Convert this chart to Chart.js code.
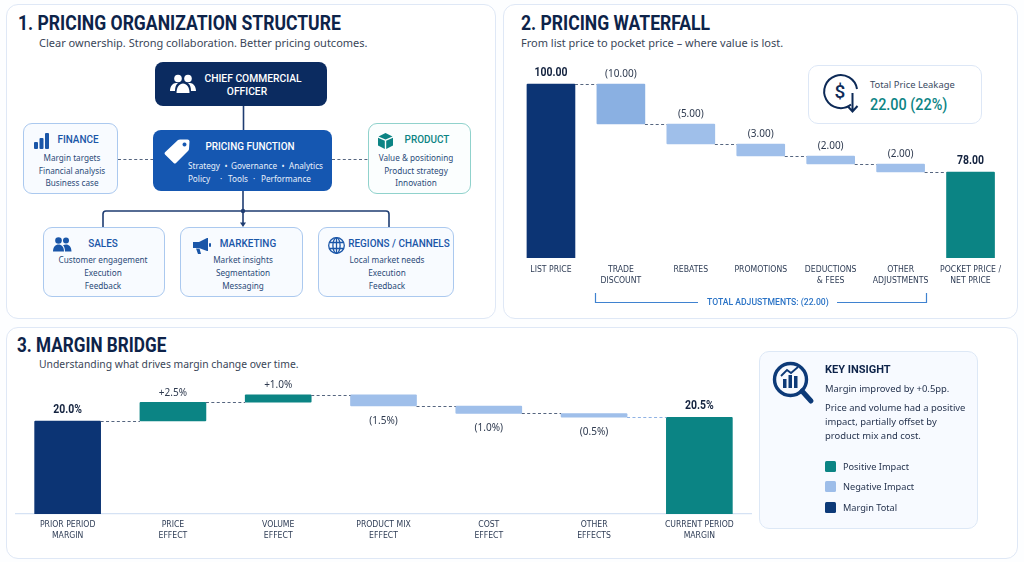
<!DOCTYPE html>
<html>
<head>
<meta charset="utf-8">
<title>Pricing overview</title>
<script src="https://cdn.jsdelivr.net/npm/chart.js@4"></script>
<style>
  html, body { margin: 0; padding: 0; background: #fdfeff; }
  body { width: 1024px; height: 562px; position: relative; overflow: hidden; font-family: "Noto Sans", sans-serif; color: #26344f; }
  .abs { position: absolute; white-space: nowrap; }
  .panel { position: absolute; box-sizing: border-box; background: #fff; border: 1.5px solid #dfe8f6; border-radius: 12px; }
  .title { position: absolute; white-space: nowrap; font-family: Roboto, sans-serif; font-weight: 700; font-size: 19.5px; line-height: 24px; color: #0d2349; transform: scaleX(.9); transform-origin: left center; }
  .sub { position: absolute; white-space: nowrap; font-size: 11px; line-height: 16px; color: #3a4658; }
  .box { position: absolute; box-sizing: border-box; border-radius: 9px; background: #f8fbff; border: 1.5px solid #abc9ef; }
  .line { position: absolute; white-space: nowrap; transform: translate(-50%, -50%) scaleX(.88); font-size: 9.3px; line-height: 12px; color: #2a4a78; }
  .head { position: absolute; white-space: nowrap; transform: translate(-50%, -50%) scaleX(.88); font-family: Roboto, sans-serif; font-weight: 500; font-size: 11.3px; line-height: 13px; color: #1a56a8; }
  .light { color: #e8f0fb; }
  canvas { position: absolute; }
  svg { position: absolute; overflow: visible; }
</style>
</head>
<body>

<div class="panel" style="left:6px;top:4px;width:490px;height:315px"></div>
<div class="panel" style="left:503px;top:4px;width:515px;height:315px"></div>
<div class="panel" style="left:6px;top:327px;width:1012px;height:232px"></div>

<div class="title" style="left:18px;top:12px">1. PRICING ORGANIZATION STRUCTURE</div>
<div class="sub" style="left:39px;top:35px">Clear ownership. Strong collaboration. Better pricing outcomes.</div>
<div class="title" style="left:521px;top:12px">2. PRICING WATERFALL</div>
<div class="sub" style="left:521px;top:35px">From list price to pocket price – where value is lost.</div>
<div class="title" style="left:17px;top:334px;transform:scaleX(.88)">3. MARGIN BRIDGE</div>
<div class="sub" style="left:39px;top:356px;font-size:10.35px">Understanding what drives margin change over time.</div>

<!-- org chart connectors -->
<svg style="left:0;top:0" width="1024" height="562">
  <g fill="none" stroke="#1f3d72" stroke-width="1.6">
    <path d="M243.5 106V130"/>
    <path d="M243 191V224"/>
    <path d="M103 227V214Q103 211 106 211H386Q389 211 389 214V227"/>
  </g>
  <circle cx="243" cy="211" r="2.2" fill="#1f3d72"/>
  <path d="M240 222.5h6l-3 4.5z" fill="#1f3d72"/>
  <g stroke="#55657f" stroke-width="1.2" stroke-dasharray="3 2.4">
    <path d="M118 159.5H153"/>
    <path d="M332 159.5H368"/>
  </g>
</svg>

<!-- chief commercial officer -->
<div class="box" style="left:155px;top:62px;width:172px;height:44px;background:#0b2b60;border:none;border-radius:8px"></div>
<svg style="left:170px;top:74px" width="26" height="20" viewBox="0 0 26 20" fill="#fff">
  <circle cx="8" cy="4.5" r="3.8"/><circle cx="18" cy="4.5" r="3.8"/>
  <path d="M0 17c0-5 3-8 6-8h2c-1.800 1.500-3 4-3 8z"/><path d="M26 17c0-5-3-8-6-8h-2c1.800 1.500 3 4 3 8z"/>
  <path d="M6.500 19c0-6 3-9.500 6.500-9.500s6.500 3.500 6.500 9.500z"/>
</svg>
<div class="head" style="left:253px;top:78px;color:#fff;transform:translate(-50%,-50%) scaleX(.91)">CHIEF COMMERCIAL</div>
<div class="head" style="left:247px;top:91px;color:#fff;transform:translate(-50%,-50%) scaleX(.91)">OFFICER</div>

<!-- pricing function -->
<div class="box" style="left:153px;top:130px;width:179px;height:61px;background:#1557b1;border:none;border-radius:8px"></div>
<svg style="left:164px;top:139px" width="26" height="25" viewBox="0 0 26 25">
  <path fill="#fff" fill-rule="evenodd" d="M16 0.500L23.500 0.500Q25.500 0.500 25.500 2.500L25 10Q25 11 24 12L12 24Q10.800 25 9.700 24L1 15.500Q0 14.300 1 13.300L14 1Q15 0.500 16 0.500ZM20.500 3.500a2 2 0 1 0 0.010 0z"/>
</svg>
<div class="head" style="left:250px;top:146px;color:#fff">PRICING FUNCTION</div>
<div class="line light" style="left:204px;top:165.500px">Strategy</div>
<div class="line light" style="left:226px;top:165.500px">•</div>
<div class="line light" style="left:254px;top:165.500px">Governance</div>
<div class="line light" style="left:283px;top:165.500px">•</div>
<div class="line light" style="left:306px;top:165.500px">Analytics</div>
<div class="line light" style="left:199px;top:178.500px">Policy</div>
<div class="line light" style="left:221px;top:178.500px">·</div>
<div class="line light" style="left:238px;top:178.500px">Tools</div>
<div class="line light" style="left:254px;top:178.500px">·</div>
<div class="line light" style="left:286px;top:178.500px">Performance</div>

<!-- finance -->
<div class="box" style="left:23px;top:123px;width:95px;height:71px"></div>
<svg style="left:34px;top:133px" width="15" height="16" viewBox="0 0 15 16" fill="#1a56a8">
  <rect x="0" y="9" width="4" height="7" rx="1"/><rect x="5.500" y="5" width="4" height="11" rx="1"/><rect x="11" y="0" width="4" height="16" rx="1"/>
</svg>
<div class="head" style="left:78px;top:139px">FINANCE</div>
<div class="line" style="left:72px;top:158px">Margin targets</div>
<div class="line" style="left:72px;top:171px">Financial analysis</div>
<div class="line" style="left:72px;top:183px">Business case</div>

<!-- product -->
<div class="box" style="left:368px;top:123px;width:103px;height:71px;border-color:#90d2cc;background:#fbfefe"></div>
<svg style="left:378px;top:133px" width="15" height="16" viewBox="0 0 15 16" fill="#0b8484">
  <path d="M7.500 0L14.500 3.500 7.500 6.500 0.500 3.500z"/><path d="M0 4.800L6.800 7.800V16L0 12.500z"/><path d="M15 4.800L8.200 7.800V16L15 12.500z"/>
</svg>
<div class="head" style="left:427px;top:139px;color:#0b8484">PRODUCT</div>
<div class="line" style="left:416px;top:158px">Value &amp; positioning</div>
<div class="line" style="left:416px;top:171px">Product strategy</div>
<div class="line" style="left:416px;top:183px">Innovation</div>

<!-- sales -->
<div class="box" style="left:43px;top:227px;width:122px;height:70px"></div>
<svg style="left:53px;top:237px" width="19" height="15" viewBox="0 0 19 15" fill="#1a56a8">
  <circle cx="5.500" cy="3.500" r="3.300"/><circle cx="13" cy="3.500" r="3"/>
  <path d="M0 14.500c0-4.500 2.500-7 5.500-7s5.500 2.500 5.500 7z"/><path d="M12 14.500c0-3-0.800-5-2-6.300 1-0.500 2-0.700 3-0.700 3 0 5.500 2.500 5.500 7z"/>
</svg>
<div class="head" style="left:103px;top:243px">SALES</div>
<div class="line" style="left:103px;top:260px">Customer engagement</div>
<div class="line" style="left:103px;top:273px">Execution</div>
<div class="line" style="left:103px;top:286px">Feedback</div>

<!-- marketing -->
<div class="box" style="left:180px;top:227px;width:123px;height:70px"></div>
<svg style="left:193px;top:238px" width="18" height="17" viewBox="0 0 18 17" fill="#1a56a8">
  <path d="M14 0L15 0V13L14 13L6 10L6 4z"/><rect x="0" y="4" width="6" height="6"/><path d="M3 10.500h3.500L8 16H5z"/><rect x="16" y="5" width="2" height="4" rx="1"/>
</svg>
<div class="head" style="left:248px;top:243px">MARKETING</div>
<div class="line" style="left:243px;top:260px">Market insights</div>
<div class="line" style="left:243px;top:273px">Segmentation</div>
<div class="line" style="left:243px;top:286px">Messaging</div>

<!-- regions -->
<div class="box" style="left:318px;top:227px;width:136px;height:70px"></div>
<svg style="left:328px;top:237px" width="17" height="17" viewBox="0 0 17 17" fill="none" stroke="#1a56a8" stroke-width="1.300">
  <circle cx="8.500" cy="8.500" r="7.800"/><ellipse cx="8.500" cy="8.500" rx="3.600" ry="7.800"/><path d="M1.500 5.500H15.500M1.500 11.500H15.500M8.500 0.700V16.300"/>
</svg>
<div class="head" style="left:399px;top:243px">REGIONS / CHANNELS</div>
<div class="line" style="left:387px;top:260px">Local market needs</div>
<div class="line" style="left:387px;top:273px">Execution</div>
<div class="line" style="left:387px;top:286px">Feedback</div>

<!-- charts -->
<canvas id="waterfallChart"></canvas>
<canvas id="bridgeChart"></canvas>

<!-- price leakage card -->
<div class="box" style="left:808px;top:65px;width:174px;height:59px;background:#fff;border-color:#dde7f6;border-radius:10px"></div>
<svg style="left:823px;top:75px" width="37" height="38" viewBox="0 0 37 38" fill="none" stroke="#0d2a57" stroke-width="2">
  <path d="M28 29.500A16.500 16.500 0 1 1 34 14"/>
  <path d="M29.500 18V36M24.500 31L29.500 36.500 34.500 31"/>
  <text x="17" y="23" text-anchor="middle" fill="#0d2a57" stroke="none" font-family="Roboto, sans-serif" font-weight="500" font-size="19">$</text>
</svg>
<div class="abs" style="left:870px;top:78px;font-size:9.400px;line-height:14px;color:#3a4a62">Total Price Leakage</div>
<div class="abs" style="left:870px;top:95px;font-family:Roboto,sans-serif;font-weight:500;font-size:16px;line-height:20px;color:#0b8484;transform:scaleX(.9);transform-origin:left center">22.00 (22%)</div>

<!-- bracket under the adjustments -->
<svg style="left:0;top:0" width="1024" height="562">
  <path d="M595.500 293V302.500H698M837 302.500H926.500V293" fill="none" stroke="#3f82d0" stroke-width="1.200"/>
</svg>
<div class="abs" style="left:707px;top:295px;font-family:Roboto,sans-serif;font-weight:500;font-size:9.400px;line-height:14px;color:#2a73c6;transform:scaleX(.92);transform-origin:left center">TOTAL ADJUSTMENTS: (22.00)</div>

<!-- key insight card -->
<div class="box" style="left:759px;top:351px;width:219px;height:178px;background:#f7faff;border-color:#dde8f6;border-radius:10px"></div>
<svg style="left:772px;top:361px" width="42" height="45" viewBox="0 0 42 45">
  <circle cx="18.500" cy="18.500" r="16" fill="none" stroke="#0d3a78" stroke-width="3.400"/>
  <path d="M30 30L39 40" stroke="#0d3a78" stroke-width="5" stroke-linecap="round"/>
  <g fill="#0d3a78"><rect x="11" y="18" width="3.500" height="9"/><rect x="16.500" y="14" width="3.500" height="13"/><rect x="22" y="15" width="3.500" height="12"/></g>
  <path d="M9 15L15 9 19 12 26 6" fill="none" stroke="#0d3a78" stroke-width="1.800"/>
</svg>
<div class="abs" style="left:825px;top:362px;font-family:Roboto,sans-serif;font-weight:700;font-size:11px;line-height:16px;color:#0d2349">KEY INSIGHT</div>
<div class="abs" style="left:825px;top:382px;font-size:9.430px;line-height:14px">Margin improved by +0.5pp.</div>
<div class="abs" style="left:825px;top:401px;font-size:9.430px;line-height:14px">Price and volume had a positive<br>impact, partially offset by<br>product mix and cost.</div>
<div class="abs" style="left:825px;top:461px;width:11px;height:11px;border-radius:1.500px;background:#0b8484"></div>
<div class="abs" style="left:843px;top:460px;font-size:9.200px;line-height:14px">Positive Impact</div>
<div class="abs" style="left:825px;top:481px;width:11px;height:11px;border-radius:1.500px;background:#9dbde9"></div>
<div class="abs" style="left:843px;top:480px;font-size:9.200px;line-height:14px">Negative Impact</div>
<div class="abs" style="left:825px;top:502px;width:11px;height:11px;border-radius:1.500px;background:#0d3a78"></div>
<div class="abs" style="left:843px;top:501px;font-size:9.200px;line-height:14px">Margin Total</div>

<script>
// pricing waterfall
const waterfallCategories = [['LIST PRICE'], ['TRADE', 'DISCOUNT'], ['REBATES'], ['PROMOTIONS'], ['DEDUCTIONS', '& FEES'], ['OTHER', 'ADJUSTMENTS'], ['POCKET PRICE /', 'NET PRICE']];
const waterfallLow = [0, 90, 85, 82, 80, 78, 0];
const waterfallHigh = [100, 100, 90, 85, 82, 80, 78];
const waterfallLabels = ['100.00', '(10.00)', '(5.00)', '(3.00)', '(2.00)', '(2.00)', '78.00'];
const waterfallSteps = [100, 90, 85, 82, 80, 78];

// margin bridge
const bridgeCategories = [['PRIOR PERIOD', 'MARGIN'], ['PRICE', 'EFFECT'], ['VOLUME', 'EFFECT'], ['PRODUCT MIX', 'EFFECT'], ['COST', 'EFFECT'], ['OTHER', 'EFFECTS'], ['CURRENT PERIOD', 'MARGIN']];
const bridgeLow = [0, 20, 22.5, 22, 21, 20.5, 0];
const bridgeHigh = [20, 22.5, 23.5, 23.5, 22, 21, 20.5];
const bridgeLabels = ['20.0%', '+2.5%', '+1.0%', '(1.5%)', '(1.0%)', '(0.5%)', '20.5%'];
const bridgeSteps = [20, 22.5, 23.5, 22, 21, 20.5];

const NAVY = '#0c3474';
const TEAL = '#0b8484';
const LIGHT = '#9fbfea';
const TICK_FONT = { family: '"DejaVu Sans Condensed", sans-serif', size: 8.6, lineHeight: 1.3 };

const waterfallColors = [NAVY, '#8ab0e2', LIGHT, LIGHT, LIGHT, LIGHT, TEAL];
const bridgeColors = [NAVY, TEAL, TEAL, LIGHT, LIGHT, LIGHT, TEAL];
const bridgeLinks = ['#55657f', '#55657f', '#55657f', '#55657f', '#55657f', '#8fb2e4'];

// dashed links between neighbouring bars plus the value text on each bar
const bridgeLines = {
    id: 'bridgeLines',
    afterDatasetsDraw(chart, args, opts) {
        const ctx = chart.ctx;
        const bars = chart.getDatasetMeta(0).data;
        const y = chart.scales.y;

        ctx.save();
        ctx.lineWidth = 1.2;
        ctx.setLineDash([3, 2.4]);
        opts.steps.forEach((value, i) => {
            const py = Math.round(y.getPixelForValue(value)) + 0.5;
            ctx.strokeStyle = opts.linkColors ? opts.linkColors[i] : '#55657f';
            ctx.beginPath();
            ctx.moveTo(bars[i].x + bars[i].width / 2, py);
            ctx.lineTo(bars[i + 1].x - bars[i + 1].width / 2, py);
            ctx.stroke();
        });
        ctx.setLineDash([]);

        ctx.textAlign = 'center';
        ctx.textBaseline = 'middle';
        bars.forEach((bar, i) => {
            const isTotal = i === 0 || i === bars.length - 1;
            const below = opts.labels[i].startsWith('(') && opts.negativeBelow;
            const yTop = y.getPixelForValue(opts.high[i]);
            const yBottom = y.getPixelForValue(opts.low[i]);
            const ty = below ? yBottom + 15 : yTop - (isTotal ? 11 : 9.5);
            ctx.save();
            ctx.translate(bar.x, ty);
            // the totals are set in a tighter bold
            if (isTotal) {
                ctx.scale(0.87, 1);
            }
            ctx.font = isTotal ? '700 12px Roboto, sans-serif' : '400 10px "Noto Sans", sans-serif';
            ctx.fillStyle = isTotal ? '#14233f' : '#2e3a4f';
            ctx.fillText(opts.labels[i], 0, 0);
            ctx.restore();
        });
        ctx.restore();
    }
};

// build one floating bar chart; the value axis stays hidden and starts above zero
var getBridgeConfig = (categories, low, high, colors, labels, steps, axis) => {
    return {
        type: 'bar',
        data: {
            labels: categories,
            datasets: [{
                data: categories.map((c, i) => [low[i], high[i]]),
                backgroundColor: colors,
                borderRadius: 1,
                borderSkipped: false,
                barThickness: axis.barThickness
            }]
        },
        options: {
            responsive: false,
            animation: false,
            layout: { padding: 0 },
            plugins: {
                legend: { display: false },
                tooltip: { enabled: false },
                bridgeLines: { labels, steps, low, high, negativeBelow: axis.negativeBelow, linkColors: axis.linkColors }
            },
            scales: {
                x: {
                    offset: true,
                    grid: { display: false, drawTicks: false },
                    border: { display: axis.showBaseline, color: '#d5e2f4', width: 1.2 },
                    ticks: { font: TICK_FONT, color: '#2e3c55', padding: axis.tickPadding, maxRotation: 0, minRotation: 0, autoSkip: false },
                    afterFit: (scale) => { scale.height = axis.labelHeight; }
                },
                y: { display: false, min: axis.min, max: axis.max }
            }
        },
        plugins: [bridgeLines]
    };
};

var placeCanvas = (id, left, top, width, height) => {
    const canvas = document.getElementById(id);
    canvas.width = width;
    canvas.height = height;
    canvas.style.left = left + 'px';
    canvas.style.top = top + 'px';
    canvas.style.width = width + 'px';
    canvas.style.height = height + 'px';
    return canvas;
};

new Chart(placeCanvas('waterfallChart', 515.5, 60, 491, 238), getBridgeConfig(
    waterfallCategories, waterfallLow, waterfallHigh, waterfallColors, waterfallLabels, waterfallSteps,
    { min: 56.5, max: 106, barThickness: 48, labelHeight: 40, tickPadding: 6, showBaseline: false, negativeBelow: false }
));

new Chart(placeCanvas('bridgeChart', 15, 372, 737, 172), getBridgeConfig(
    bridgeCategories, bridgeLow, bridgeHigh, bridgeColors, bridgeLabels, bridgeSteps,
    { min: 7.6, max: 26.53, barThickness: 66, labelHeight: 30, tickPadding: 5, showBaseline: true, negativeBelow: true, linkColors: bridgeLinks }
));
</script>
</body>
</html>
